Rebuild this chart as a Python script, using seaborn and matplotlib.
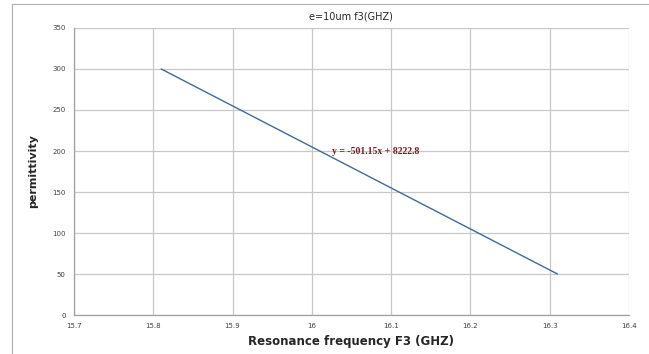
import numpy as np
import pandas as pd
import matplotlib
matplotlib.use('Agg')
import matplotlib.pyplot as plt
import seaborn as sns

# data
frequency = [15.81, 16.31]
permittivity = [300, 50]
fit_label = 'y = -501.15x + 8222.8'
x_ticks = [15.7, 15.8, 15.9, 16.0, 16.1, 16.2, 16.3, 16.4]
x_tick_labels = ['15.7', '15.8', '15.9', '16', '16.1', '16.2', '16.3', '16.4']
y_ticks = [0, 50, 100, 150, 200, 250, 300, 350]

df = pd.DataFrame({'freq': frequency, 'perm': permittivity})

sns.set_style('white')
plt.rcParams['font.family'] = ['DejaVu Sans']

fig = plt.figure(figsize=(6.49, 3.54), dpi=100)
ax = fig.add_axes([0.114, 0.110, 0.855, 0.811])

sns.lineplot(data=df, x='freq', y='perm', ax=ax, color='#3f6b98', linewidth=1.0)

ax.set_xlim(15.7, 16.4)
ax.set_ylim(0, 350)
ax.set_xticks(x_ticks)
ax.set_xticklabels(x_tick_labels)
ax.set_yticks(y_ticks)
ax.tick_params(labelsize=5, colors='#404040', length=0, pad=6)
ax.grid(True, color='#c8c8c8', linewidth=0.9)
for side in ['top', 'right']:
    ax.spines[side].set_visible(False)
for side in ['left', 'bottom']:
    ax.spines[side].set_color('#a0a0a0')
    ax.spines[side].set_linewidth(0.9)

ax.set_title('e=10um f3(GHZ)', fontsize=7, pad=6)
ax.set_xlabel('Resonance frequency F3 (GHZ)', fontsize=8.5, fontweight='bold', labelpad=4)
ax.set_ylabel('permittivity', fontsize=8, fontweight='bold', labelpad=10)

ax.text(16.025, 200, fit_label, fontsize=7, fontweight='bold', color='#7a1a22',
        family='Liberation Serif', va='center', ha='left')

# outer chart frame
fig.patches.append(plt.Rectangle((12 / 649, -0.01), 1.0, (354 - 4) / 354 + 0.01,
                                 transform=fig.transFigure, fill=False,
                                 edgecolor='#b0b0b0', linewidth=0.8))

fig.savefig('out.png', dpi=100)
